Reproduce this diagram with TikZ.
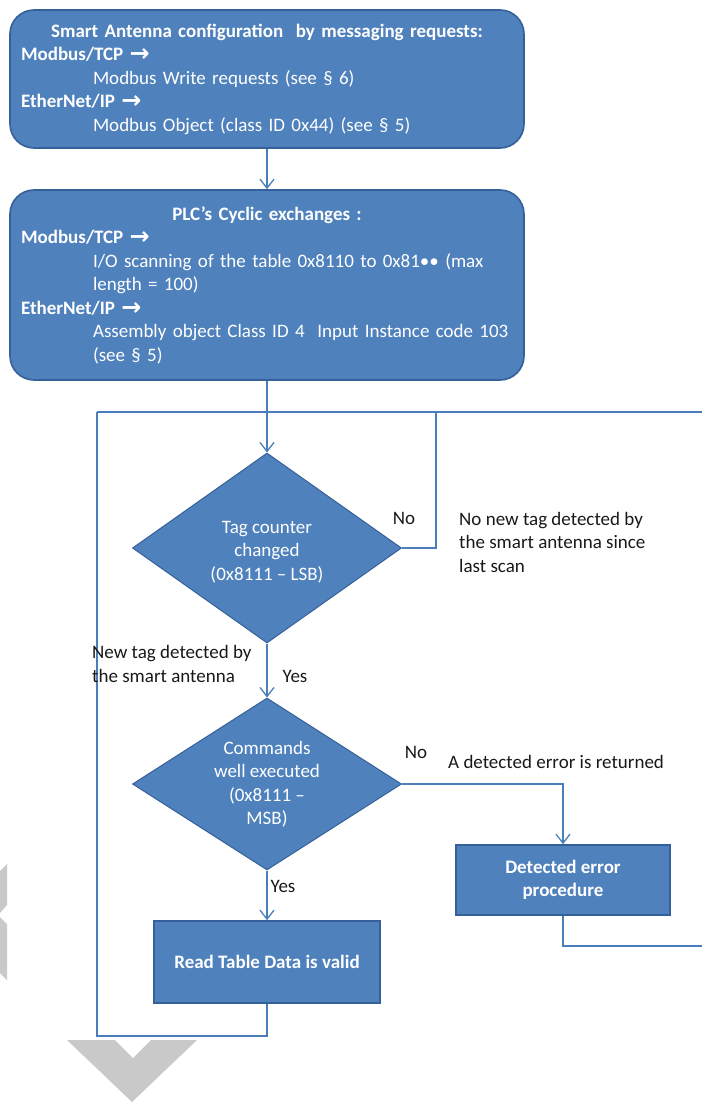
\documentclass[tikz,border=0pt]{standalone}
\usepackage{fontspec}
\setmainfont{Carlito}
\newfontfamily\dvs{DejaVu Sans}
\usetikzlibrary{shapes.geometric,arrows.meta}
\definecolor{boxfill}{HTML}{4F81BD}
\definecolor{boxdraw}{HTML}{36609A}
\definecolor{linec}{HTML}{4A7EBB}
\definecolor{wm}{HTML}{C9C9C9}
\newcommand{\rarr}{{\dvs\bfseries\fontsize{24}{24}\selectfont\raisebox{-1pt}{→}}}
\begin{document}
\begin{tikzpicture}[x=1pt,y=-1pt,
  font=\fontsize{19}{23.5}\selectfont,
  rbox/.style={draw=boxdraw, line width=1.6pt, fill=boxfill, rounded corners=24pt, text=white, inner sep=0pt, align=left},
  dia/.style={diamond, draw=boxdraw, line width=1pt, fill=boxfill, inner sep=0pt, minimum width=269pt},
  dtext/.style={text=white, align=center, inner sep=0pt},
  sbox/.style={draw=boxdraw, line width=1.6pt, fill=boxfill, text=white, align=center, font=\fontsize{19}{23.5}\selectfont\bfseries},
  conn/.style={draw=linec, line width=1.3pt},
  arr/.style={conn, -{Straight Barb[length=9pt,width=14pt]}},
  lbl/.style={text=black!90, align=left, inner sep=0pt}]
\fill[white] (0,0) rectangle (702,1102);
\useasboundingbox (0,0) rectangle (702,1102);
% watermark shapes
\fill[wm] (67,1040) -- (115,1040) -- (133,1058) -- (151,1040) -- (197,1040) -- (132,1102) -- cycle;
\fill[wm] (0,871) -- (7,864) -- (7,905) -- (0,913) -- cycle;
\fill[wm] (0,917) -- (7,924) -- (7,980) -- (0,973) -- cycle;

\node[rbox, minimum width=514pt, minimum height=138pt, text width=492pt] (cfg) at (267,79) {%
\makebox[492pt][c]{\bfseries Smart Antenna configuration\ \ by messaging requests:}\\
\textbf{Modbus/TCP \rarr}\\
\hspace*{72pt}Modbus Write requests (see § 6)\\
\textbf{EtherNet/IP \rarr}\\
\hspace*{72pt}Modbus Object (class ID 0x44) (see § 5)};

\node[rbox, minimum width=514pt, minimum height=190pt, text width=492pt] (plc) at (267,285) {%
\makebox[492pt][c]{\bfseries PLC’s Cyclic exchanges :}\\
\textbf{Modbus/TCP \rarr}\\
\hspace*{72pt}I/O scanning of the table 0x8110 to 0x81•• (max\\
\hspace*{72pt}length = 100)\\
\textbf{EtherNet/IP \rarr}\\
\hspace*{72pt}Assembly object Class ID 4\ \ Input Instance code 103\\
\hspace*{72pt}(see § 5)};

\node[dia, minimum height=190pt] (d1) at (267,548) {};
\node[dtext] (d1t) at (267,552) {Tag counter\\changed\\(0x8111 – LSB)};
\node[dia, minimum height=172pt] (d2) at (267,784) {};
\node[dtext] (d2t) at (267,784) {Commands\\well executed\\(0x8111 –\\MSB)};
\node[sbox, minimum width=214pt, minimum height=70pt] (err) at (563,880) {Detected error\\procedure};
\node[sbox, minimum width=226pt, minimum height=82pt] (read) at (267,962) {Read Table Data is valid};

\coordinate (tl) at (97,412);
\coordinate (tr) at (702,412);
\coordinate (n1) at (436,412);
\coordinate (bl) at (97,1036);
\coordinate (bm) at (267,1036);
\coordinate (er) at (702,946);

\draw[arr] (cfg.south) -- (plc.north);
\draw[conn] (tl) -- (tr);
\draw[arr] (plc.south) -- (d1.north);
\draw[conn] (d1.east) -| (n1);
\draw[arr] (d1.south) -- (d2.north);
\draw[arr] (d2.east) -| (err.north);
\draw[arr] (d2.south) -- (read.north);
\draw[conn] (read.south) -- (bm) -- (bl) -- (tl);
\draw[conn] (err.south) |- (er);

\node[lbl, anchor=base] (no1) at (404,524) {No};
\node[lbl, anchor=base west] (nonew) at (459,572) {No new tag detected by\\the smart antenna since\\last scan};
\node[lbl, anchor=base west] (newtag) at (92,682) {New tag detected by\\the smart antenna};
\node[lbl, anchor=base] (yes1) at (295,682) {Yes};
\node[lbl, anchor=base] (no2) at (416,758) {No};
\node[lbl, anchor=base west] (errret) at (448,768) {A detected error is returned};
\node[lbl, anchor=base] (yes2) at (283,892) {Yes};
\end{tikzpicture}
\end{document}
